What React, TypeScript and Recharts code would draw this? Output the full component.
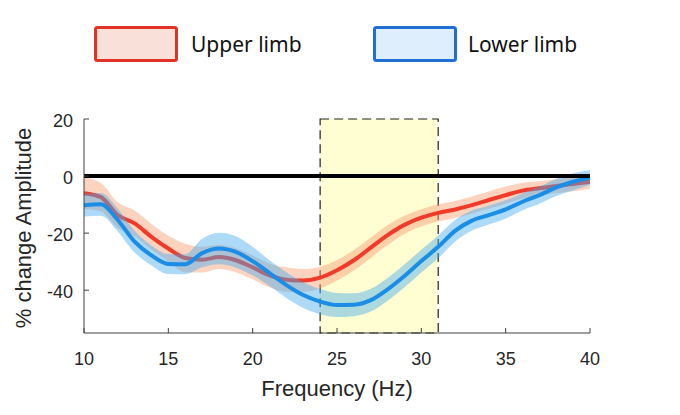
import React from 'react';
import {
  ComposedChart,
  Area,
  Line,
  XAxis,
  YAxis,
  ReferenceArea,
  ReferenceLine,
  Label
} from 'recharts';

// Frequency bins (Hz)
const freqs = [10, 11, 12, 13, 14, 15, 16, 17, 18, 19, 20, 21, 22, 23, 24, 25, 26, 27, 28, 29, 30, 31, 32, 33, 34, 35, 36, 37, 38, 39, 40];

// Upper limb: mean % change and half-width of the shaded band
const upperMean = [-6.0, -7.4, -13.7, -16.6, -21.3, -25.4, -28.7, -29.3, -28.4, -29.5, -32.0, -34.8, -36.3, -36.6, -35.6, -33.0, -29.5, -25.1, -20.7, -17.1, -14.6, -12.9, -11.7, -10.2, -8.4, -6.7, -5.1, -4.3, -3.5, -2.8, -2.0];
const upperErr = [5.5, 5, 4.5, 4.5, 4.5, 4.5, 5, 4.5, 4.2, 4.2, 4.2, 4.2, 4.3, 4, 3.8, 3.6, 3.6, 3.6, 3.5, 3.2, 3, 3, 3, 3, 3, 3, 2.8, 2.5, 2.5, 2.5, 2.5];

// Lower limb
const lowerMean = [-10.2, -9.9, -15.4, -23.0, -27.8, -30.8, -30.9, -27.0, -25.4, -26.6, -29.8, -34.0, -38.2, -41.7, -44.0, -45.2, -45.1, -43.5, -39.7, -35.0, -29.8, -24.8, -19.2, -15.6, -13.7, -11.7, -9.0, -6.7, -4.0, -2.0, -0.5];
const lowerErr = [4, 4, 4, 3.8, 3.5, 3.5, 3.5, 5, 5.5, 5.5, 5, 4.5, 4.5, 4.5, 4.4, 4.2, 4, 4, 4, 4, 4, 4, 3.8, 3.5, 3.3, 3.2, 3, 3, 3, 3, 2.5];

const xTicks = [10, 15, 20, 25, 30, 35, 40];
const yTicks = [-40, -20, 0, 20];

// highlighted beta window
const bandStart = 24;
const bandEnd = 31;

const data = freqs.map((f, i) => ({
  freq: f,
  upper: upperMean[i],
  upperBand: [upperMean[i] - upperErr[i], upperMean[i] + upperErr[i]],
  lower: lowerMean[i],
  lowerBand: [lowerMean[i] - lowerErr[i], lowerMean[i] + lowerErr[i]]
}));

const AXIS_FONT = '"Liberation Sans", Arial, sans-serif';
const AXIS_COLOR = '#262626';

const YTick = (props: any) => {
  const { x, y, payload } = props;
  return (
    <g>
      <line x1={x + 11} y1={y} x2={x + 16} y2={y} stroke="#404040" strokeWidth={1} />
      <text x={x} y={y + 8} textAnchor="end" fontSize={18} fontFamily={AXIS_FONT} fill={AXIS_COLOR}>
        {payload.value}
      </text>
    </g>
  );
};

const XTick = (props: any) => {
  const { x, y, payload } = props;
  return (
    <g>
      <line x1={x} y1={y} x2={x} y2={y - 5} stroke="#404040" strokeWidth={1} />
      <text x={x} y={y + 32} textAnchor="middle" fontSize={18} fontFamily={AXIS_FONT} fill={AXIS_COLOR}>
        {payload.value}
      </text>
    </g>
  );
};

const legendItems = [
  { name: 'Upper limb', border: '#e23226', fill: '#f9e1da', boxX: 94, textX: 191 },
  { name: 'Lower limb', border: '#1f6fd6', fill: '#dfeefc', boxX: 373, textX: 468 }
];

export default function App() {
  return (
    <div style={{ position: 'absolute', left: 0, top: 0, width: 680, height: 415, background: '#fff' }}>
      <svg width={680} height={80} style={{ position: 'absolute', left: 0, top: 0 }}>
        {legendItems.map((item) => (
          <g key={item.name}>
            <rect x={item.boxX + 1.5} y={27.5} width={81} height={33} rx={2} fill={item.fill} stroke={item.border} strokeWidth={3} />
            <text x={item.textX} y={52} fontSize={21} fontFamily='"Noto Sans", "Open Sans", sans-serif' fill="#111">
              {item.name}
            </text>
          </g>
        ))}
      </svg>
      <ComposedChart
        width={680}
        height={415}
        data={data}
        margin={{ top: 119, right: 90, left: 0, bottom: 0 }}
        style={{ position: 'absolute', left: 0, top: 0 }}
      >
        <XAxis
          dataKey="freq"
          type="number"
          domain={[10, 40]}
          ticks={xTicks}
          interval={0}
          height={82}
          tickSize={0}
          tickMargin={0}
          tickLine={false}
          tick={(p: any) => <XTick {...p} />}
          axisLine={{ stroke: '#404040', strokeWidth: 1 }}
        >
          <Label
            content={() => (
              <text x={337} y={396} textAnchor="middle" fontSize={22} fontFamily={AXIS_FONT} fill={AXIS_COLOR}>
                Frequency (Hz)
              </text>
            )}
          />
        </XAxis>
        <YAxis
          type="number"
          domain={[-55, 20]}
          ticks={yTicks}
          interval={0}
          width={84}
          tickSize={0}
          tickMargin={11}
          tickLine={false}
          allowDataOverflow
          tick={(p: any) => <YTick {...p} />}
          axisLine={{ stroke: '#404040', strokeWidth: 1 }}
        >
          <Label
            content={() => (
              <text
                x={31}
                y={228}
                textAnchor="middle"
                fontSize={22}
                fontFamily={AXIS_FONT}
                fill={AXIS_COLOR}
                transform="rotate(-90 31 228)"
              >
                % change Amplitude
              </text>
            )}
          />
        </YAxis>
        <ReferenceArea
          x1={bandStart}
          x2={bandEnd}
          y1={-55}
          y2={20}
          fill="#fffdd2"
          fillOpacity={1}
          stroke="#222"
          strokeWidth={1.2}
          strokeDasharray="9 5"
          zIndex={50}
        />
        <Area
          type="monotone"
          dataKey="upperBand"
          stroke="none"
          fill="#f7a27a"
          fillOpacity={0.48}
          isAnimationActive={false}
          activeDot={false}
          zIndex={100}
        />
        <Line
          type="monotone"
          dataKey="upper"
          stroke="#f03a2a"
          strokeWidth={4}
          dot={false}
          activeDot={false}
          isAnimationActive={false}
          zIndex={110}
        />
        <Area
          type="monotone"
          dataKey="lowerBand"
          stroke="none"
          fill="#46aeee"
          fillOpacity={0.45}
          isAnimationActive={false}
          activeDot={false}
          zIndex={120}
        />
        <Line
          type="monotone"
          dataKey="lower"
          stroke="#1a8de6"
          strokeWidth={4}
          dot={false}
          activeDot={false}
          isAnimationActive={false}
          zIndex={130}
        />
        <ReferenceLine y={0} stroke="#000" strokeWidth={4} zIndex={140} />
      </ComposedChart>
    </div>
  );
}
